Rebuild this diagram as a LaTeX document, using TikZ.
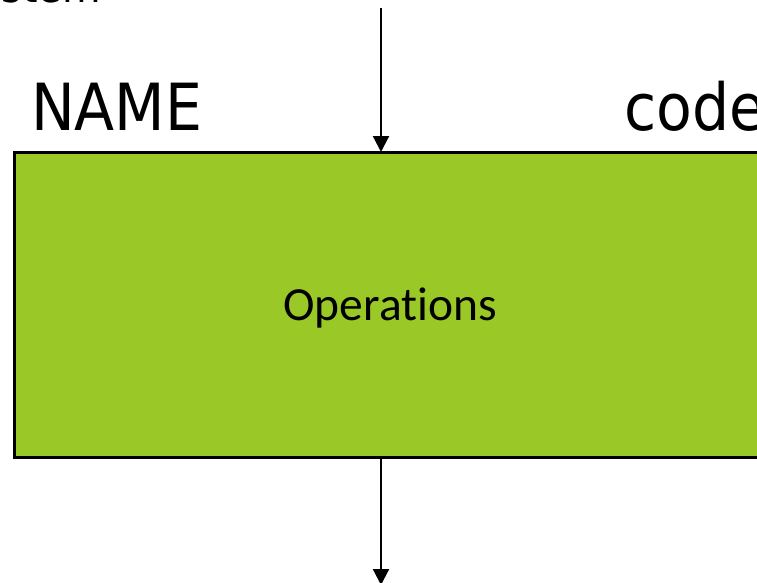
\documentclass[tikz,border=0pt]{standalone}
\usepackage{fontspec}
\newfontfamily\labelfont{DejaVu Sans Condensed}
\newfontfamily\opfont[Ligatures=NoCommon]{Carlito}
\usetikzlibrary{arrows.meta}
\definecolor{opgreen}{HTML}{9AC827}
\tikzset{
  flow/.style={line width=2.2pt, -{Triangle[width=16pt,length=16pt]}},
  opbox/.style={draw=black, line width=3pt, fill=opgreen, inner sep=0pt, outer sep=0pt,
                minimum width=786pt, minimum height=305pt},
  biglabel/.style={inner sep=0pt, font=\labelfont\fontsize{65}{70}\selectfont},
  toplabel/.style={inner sep=0pt, font=\labelfont\fontsize{44}{48}\selectfont},
  optext/.style={inner sep=0pt, font=\opfont\fontsize{47.5}{52}\selectfont}
}
\begin{document}
\begin{tikzpicture}[x=1pt, y=-1pt]
  \useasboundingbox (0,0) rectangle (757,583);
  \clip (0,0) rectangle (757,583);
  % process block
  \node[opbox] (box) at (407,304.5) {};
  \node[optext, anchor=base] (ops) at (390,320) {Operations};
  % labels above the block
  \node[toplabel, anchor=base east] (sys) at (101,3) {System};
  \node[biglabel, anchor=base west] (name) at (31,131) {NAME};
  \node[biglabel, anchor=base west] (code) at (624,131) {code};
  % input and output flows
  \coordinate (in) at (381,8);
  \coordinate (out) at (381,585);
  \draw[flow] (in) -- (in |- box.north);
  \draw[flow] (box.south -| out) -- (out);
\end{tikzpicture}
\end{document}
